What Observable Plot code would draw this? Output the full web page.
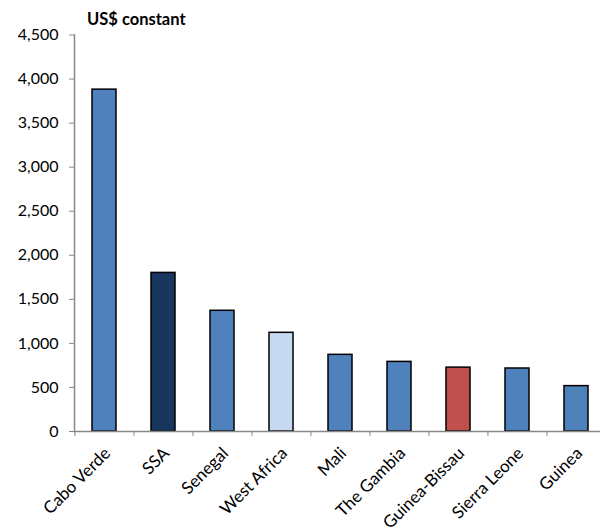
<!DOCTYPE html>
<html>
<head>
<meta charset="utf-8">
<script src="https://cdn.jsdelivr.net/npm/d3@7"></script>
<script src="https://cdn.jsdelivr.net/npm/@observablehq/plot@0.6"></script>
<style>
  body { margin: 0; background: #fff; font-family: Lato, "Open Sans", sans-serif; }
  #title { height: 28px; box-sizing: border-box; padding-top: 10px; padding-left: 87px;
           font-weight: bold; font-size: 16.5px; line-height: 18px; color: #000; }
  #chart svg { overflow: visible; }
</style>
</head>
<body>
<div id="title">US$ constant</div>
<div id="chart"></div>
<script>
// GDP per capita, constant US$
const countries = ["Cabo Verde", "SSA", "Senegal", "West Africa", "Mali", "The Gambia", "Guinea-Bissau", "Sierra Leone", "Guinea"];
const values = [3880, 1800, 1370, 1120, 870, 790, 725, 715, 515];
const fills = ["#4F81BD", "#17375E", "#4F81BD", "#C6D9F1", "#4F81BD", "#4F81BD", "#C0504D", "#4F81BD", "#4F81BD"];
const yTicks = [0, 500, 1000, 1500, 2000, 2500, 3000, 3500, 4000, 4500];

const data = countries.map((c, i) => ({country: c, value: values[i], fill: fills[i]}));

const xRange = [74, 606];
const step = (xRange[1] - xRange[0]) / countries.length;
const axisGray = "#868686";

const chart = Plot.plot({
  width: 600,
  height: 501,
  marginLeft: 74,
  marginRight: 0,
  marginTop: 6.5,
  marginBottom: 98,
  style: {fontFamily: "Lato, 'Open Sans', sans-serif", fontSize: "16px", color: "#000", background: "#fff", overflow: "visible"},
  x: {domain: countries, range: xRange, paddingInner: 0.6, paddingOuter: 0.3},
  y: {domain: [0, 4500]},
  color: {type: "identity"},
  marks: [
    Plot.barY(data, {x: "country", y: "value", fill: "fill", stroke: "#000", strokeWidth: 1.5}),
    Plot.ruleY([0], {stroke: axisGray, strokeWidth: 1.5}),
    Plot.frame({anchor: "left", stroke: axisGray, strokeWidth: 1.5}),
    Plot.axisY({ticks: yTicks, tickFormat: d3.format(","), tickSize: 5, tickPadding: 11, stroke: axisGray, fill: "#000", fontSize: 16, label: null}),
    // category separators along the baseline
    Plot.axisX({tickSize: 5, tickFormat: () => "", dx: -step / 2, stroke: axisGray, label: null}),
    Plot.axisX({tickSize: 0, tickRotate: -45, tickPadding: 8, dx: 3, dy: 11, fill: "#000", fontSize: 17, label: null})
  ]
});
document.getElementById("chart").appendChild(chart);
</script>
</body>
</html>
